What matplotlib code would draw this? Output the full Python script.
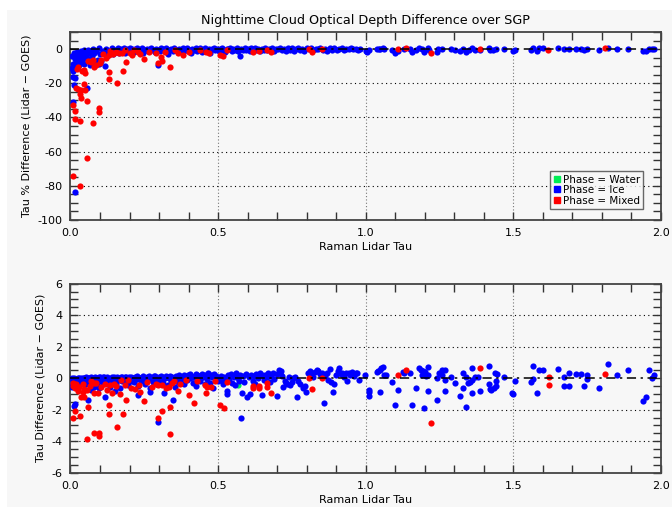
import numpy as np
import matplotlib
matplotlib.use("Agg")
import matplotlib.pyplot as plt
from matplotlib.lines import Line2D
from matplotlib.patches import Rectangle

# Nighttime cloud optical depth, Raman lidar vs GOES, split by cloud phase.
# Each series is a list of (lidar tau, difference) pairs.

# --- % difference panel ---
pct_water = [(0.566, -1.0)]

pct_ice = [
    (0.015, -83.4), (0.010, -31.0), (0.011, -21.0), (0.057, -22.9), (0.008, -16.5),
    (0.014, -17.0), (0.118, -10.1), (0.090, -7.0), (0.297, -9.1), (0.005, -11.0),
    (0.020, -10.0), (0.030, -9.5), (0.045, -8.5), (0.065, -9.5), (0.075, -8.0),
    (0.097, -9.0), (0.006, -4.0), (0.008, -9.0), (0.010, -13.0), (0.012, -2.0),
    (0.014, -6.0), (0.016, -11.0), (0.018, -3.0), (0.020, -8.0), (0.022, -1.5),
    (0.025, -5.0), (0.028, -3.0), (0.031, -7.0), (0.034, -1.0), (0.037, -4.0),
    (0.040, -2.0), (0.043, -6.0), (0.046, -0.5), (0.049, -3.0), (0.052, -1.5),
    (0.056, -5.0), (0.060, -0.5), (0.064, -2.5), (0.068, -1.0), (0.072, -4.0),
    (0.076, 0.0), (0.080, -2.0), (0.084, -8.0), (0.088, -1.0), (0.092, -6.5),
    (0.096, 0.5), (0.100, -3.0), (0.105, -7.0), (0.110, -1.0), (0.115, -2.5),
    (0.120, 0.0), (0.125, -4.0), (0.130, -1.0), (0.135, -2.0), (0.140, 0.5),
    (0.145, -3.0), (0.150, -0.5), (0.155, -1.5), (0.160, 0.5), (0.165, -2.5),
    (0.170, 0.0), (0.175, -1.0), (0.180, 0.5), (0.185, -2.0), (0.190, 0.0),
    (0.195, -0.8), (0.200, 0.5),
    (0.202, -0.5), (0.208, 0.3), (0.214, -1.6), (0.219, -0.2), (0.224, 0.5),
    (0.230, -1.0), (0.236, -0.3), (0.241, 0.4), (0.247, -2.4), (0.252, -0.6),
    (0.258, 0.2), (0.263, -1.2), (0.269, -0.1), (0.274, 0.6), (0.280, -0.8),
    (0.285, -1.9), (0.291, 0.3), (0.297, -0.4), (0.302, -1.4), (0.308, 0.5),
    (0.313, -0.2), (0.319, -0.9), (0.324, 0.4), (0.330, -2.8), (0.335, -0.3),
    (0.341, 0.2), (0.346, -1.1), (0.352, 0.6), (0.357, -0.5), (0.363, -1.7),
    (0.368, 0.1), (0.374, -0.3), (0.380, 0.5), (0.385, -1.3), (0.391, -0.2),
    (0.396, 0.4), (0.402, -0.7), (0.407, -2.0), (0.413, 0.3), (0.418, -0.4),
    (0.424, 0.6), (0.429, -1.0), (0.435, -0.1), (0.440, 0.4), (0.446, -1.5),
    (0.451, -0.3), (0.457, 0.5), (0.462, -0.8), (0.468, 0.2), (0.474, -2.2),
    (0.479, -0.2), (0.485, 0.4), (0.490, -0.6), (0.496, 0.3), (0.502, -1.2),
    (0.507, 0.1), (0.513, 0.5), (0.518, -0.4), (0.524, -1.6), (0.530, 0.3),
    (0.535, -0.2), (0.541, 0.6), (0.546, -0.9), (0.552, 0.2), (0.557, -0.5),
    (0.563, 0.4), (0.568, -1.3), (0.574, -3.9), (0.579, 0.3), (0.585, -0.3),
    (0.591, 0.5), (0.596, -0.7), (0.602, 0.2), (0.608, -1.1), (0.613, 0.4),
    (0.619, -0.2), (0.625, 0.6), (0.630, -0.6), (0.636, 0.1), (0.642, -1.4),
    (0.648, 0.3), (0.654, -0.4), (0.660, 0.5), (0.666, -0.8), (0.672, 0.2),
    (0.678, -0.3), (0.684, 0.6), (0.690, -1.0), (0.696, 0.3), (0.702, -0.2),
    (0.708, 0.5), (0.715, -0.6), (0.722, 0.2), (0.729, -1.2), (0.736, 0.4),
    (0.743, -0.3), (0.750, 0.5), (0.757, -0.9), (0.764, 0.1), (0.771, 0.4),
    (0.778, -0.5), (0.785, 0.2), (0.792, -1.1), (0.800, 0.5), (0.807, -0.2),
    (0.815, 0.4), (0.822, -0.7), (0.830, 0.3), (0.838, -0.1), (0.846, 0.5),
    (0.854, -0.5), (0.862, 0.2), (0.870, -1.2), (0.878, 0.4), (0.886, -0.3),
    (0.894, 0.5), (0.902, -0.6), (0.910, 0.2), (0.918, 0.4), (0.926, -0.4),
    (0.934, 0.3), (0.942, -0.2), (0.950, 0.5), (0.958, 0.1), (0.966, 0.3),
    (0.974, -0.3), (0.982, 0.2),
    (1.000, -1.0), (1.003, -1.8), (1.010, -0.5), (1.038, 0.2), (1.045, 0.3),
    (1.050, 0.0), (1.058, 0.4), (1.061, -0.2), (1.089, -0.3), (1.098, -2.0),
    (1.109, -1.0), (1.129, 0.3), (1.149, 0.2), (1.156, -1.8), (1.170, -0.8),
    (1.179, 0.4), (1.190, 0.3), (1.199, -1.8), (1.210, 0.5), (1.215, -0.3),
    (1.240, -1.5), (1.245, 0.1), (1.260, 0.3), (1.290, -0.2), (1.301, -0.5),
    (1.320, -1.2), (1.329, 0.2), (1.340, -1.5), (1.350, -0.5), (1.360, 0.4),
    (1.370, -0.8), (1.388, -0.6), (1.418, 0.5), (1.420, -0.8), (1.430, -0.5),
    (1.440, 0.2), (1.469, 0.1), (1.500, -1.0), (1.507, -0.3), (1.559, -0.3),
    (1.567, 0.5), (1.579, -0.9), (1.588, 0.4), (1.599, 0.4), (1.651, 0.4),
    (1.670, 0.1), (1.690, 0.2), (1.711, 0.2), (1.730, 0.2), (1.739, -0.5),
    (1.750, 0.1), (1.790, -0.6), (1.819, 0.6), (1.850, 0.2), (1.889, 0.3),
    (1.939, -1.3), (1.950, -1.0), (1.958, 0.3), (1.969, 0.0), (1.977, 0.2),
]

pct_mixed = [
    (0.0085, -74.2), (0.031, -80.0), (0.057, -64.0), (0.077, -43.0), (0.096, -34.7),
    (0.096, -36.6), (0.031, -42.3), (0.016, -41.1), (0.016, -36.3), (0.0085, -33.0),
    (0.057, -30.2), (0.037, -28.7), (0.033, -26.0), (0.035, -24.2), (0.025, -23.3),
    (0.020, -23.0), (0.048, -23.8), (0.045, -20.7), (0.157, -19.6), (0.129, -17.5),
    (0.129, -13.2), (0.178, -12.6), (0.189, -7.4), (0.296, -8.0), (0.309, -6.8),
    (0.337, -10.7), (0.249, -5.8), (0.048, -14.2), (0.040, -12.8), (0.045, -12.5),
    (0.022, -11.6), (0.026, -10.7), (0.060, -7.0), (0.075, -6.5), (0.085, -9.5),
    (0.078, -10.5), (0.070, -7.5), (0.100, -8.0), (0.105, -6.5), (0.120, -5.5),
    (0.130, -3.5), (0.140, -2.5), (0.155, -1.5), (0.165, -2.5), (0.185, -0.5),
    (0.200, -2.5), (0.215, -0.3), (0.230, -1.8), (0.265, -1.8), (0.290, -2.5),
    (0.305, -4.5), (0.320, -1.8), (0.355, -0.8), (0.365, -2.5), (0.380, -3.5),
    (0.440, -0.8), (0.110, -3.0), (0.145, -3.0), (0.175, -2.0), (0.210, -3.5),
    (0.235, -3.0), (0.400, -1.5), (0.460, -1.5), (0.470, -2.0), (0.134, -1.0),
    (0.507, -3.3), (0.518, -4.3), (0.529, -0.5), (0.617, -1.5), (0.639, -1.2),
    (0.667, -0.8), (0.679, -1.5), (0.809, 0.0), (0.818, -1.5), (0.851, 0.3),
    (1.108, 0.0), (1.138, 0.6), (1.221, -2.5), (1.387, 0.0), (1.618, -0.4),
    (1.812, 0.4),
]

# --- absolute difference panel ---
diff_water = [(0.567, -0.43)]

diff_ice = [
    (0.011, -1.78), (0.016, -1.65), (0.058, -1.38), (0.118, -1.21), (0.296, -2.79),
    (0.348, -1.38), (0.269, -0.90), (0.318, -0.96), (0.229, -1.07), (0.070, -0.75),
    (0.150, -0.80),
    (0.005, -0.55), (0.008, -0.35), (0.010, -0.20), (0.012, -0.10), (0.014, -0.45),
    (0.016, -0.05), (0.018, -0.30), (0.020, -0.15), (0.022, -0.60), (0.024, -0.08),
    (0.026, -0.25), (0.028, -0.02), (0.030, -0.40), (0.033, -0.12), (0.036, -0.05),
    (0.039, -0.30), (0.042, -0.18), (0.045, 0.00), (0.048, -0.10), (0.051, -0.35),
    (0.054, -0.05), (0.057, -0.20), (0.060, 0.02), (0.063, -0.12), (0.066, -0.45),
    (0.069, -0.03), (0.072, -0.22), (0.075, 0.04), (0.078, -0.08), (0.081, -0.55),
    (0.084, -0.15), (0.087, 0.03), (0.090, -0.28), (0.093, -0.06), (0.096, -0.65),
    (0.099, 0.05), (0.103, -0.18), (0.107, -0.02), (0.111, -0.40), (0.115, 0.06),
    (0.119, -0.10), (0.123, -0.30), (0.127, 0.04), (0.131, -0.15), (0.135, -0.55),
    (0.139, 0.00), (0.143, -0.22), (0.147, 0.07), (0.151, -0.08), (0.155, -0.35),
    (0.159, 0.03), (0.163, -0.12), (0.167, -0.60), (0.171, 0.05), (0.175, -0.20),
    (0.179, -0.05), (0.183, 0.08), (0.187, -0.30), (0.191, -0.02), (0.195, -0.45),
    (0.199, 0.06), (0.204, -0.15), (0.209, 0.02), (0.214, -0.25), (0.219, 0.09),
    (0.224, -0.08), (0.229, -0.50), (0.234, 0.04), (0.239, -0.18), (0.244, 0.10),
    (0.249, -0.03), (0.254, -0.35), (0.259, 0.07), (0.264, -0.12), (0.269, -0.62),
    (0.274, 0.02), (0.279, -0.22), (0.284, 0.11), (0.289, -0.05), (0.294, -0.40),
    (0.299, 0.05), (0.304, -0.15), (0.309, 0.08), (0.314, -0.30), (0.319, -0.02),
    (0.324, 0.12), (0.329, -0.45), (0.334, 0.03), (0.339, -0.20), (0.344, 0.09),
    (0.349, -0.08), (0.354, -0.55), (0.359, 0.06), (0.364, -0.25), (0.369, 0.13),
    (0.374, -0.05), (0.379, 0.02), (0.384, -0.35), (0.389, 0.10), (0.394, -0.12),
    (0.399, 0.22), (0.404, -0.02), (0.409, 0.15), (0.414, -0.28), (0.419, 0.05),
    (0.424, -0.50), (0.429, 0.18), (0.434, 0.00), (0.439, -0.15), (0.444, 0.25),
    (0.449, 0.08), (0.454, -0.40), (0.459, 0.12), (0.464, -0.05), (0.469, 0.20),
    (0.474, -0.30), (0.479, 0.10), (0.484, -0.60), (0.489, 0.05), (0.494, 0.15),
    (0.499, -0.20),
    (0.004, -0.02), (0.013, 0.01), (0.019, -0.04), (0.027, 0.03), (0.034, -0.02),
    (0.041, 0.04), (0.047, -0.03), (0.053, 0.05), (0.062, -0.02), (0.068, 0.06),
    (0.074, -0.04), (0.083, 0.05), (0.089, -0.01), (0.095, 0.07), (0.101, -0.04),
    (0.109, 0.06), (0.117, -0.02), (0.125, 0.08), (0.133, -0.05), (0.141, 0.07),
    (0.149, 0.01), (0.157, 0.09), (0.165, -0.03), (0.173, 0.08), (0.181, 0.00),
    (0.189, 0.10), (0.197, -0.04), (0.206, 0.09), (0.216, 0.02), (0.226, 0.11),
    (0.236, -0.02), (0.246, 0.12), (0.256, 0.03), (0.266, 0.13), (0.276, -0.03),
    (0.286, 0.12), (0.296, 0.02), (0.306, 0.14), (0.316, 0.04), (0.326, 0.10),
    (0.336, 0.15), (0.346, 0.02), (0.356, 0.12), (0.366, 0.20), (0.376, 0.08),
    (0.386, 0.18), (0.396, 0.05), (0.406, 0.25), (0.416, 0.10), (0.426, 0.28),
    (0.436, 0.12), (0.446, 0.05), (0.456, 0.22), (0.466, 0.30), (0.476, 0.18),
    (0.486, 0.25), (0.496, 0.08),
    (0.505, -0.10), (0.510, 0.15), (0.515, -0.35), (0.520, 0.05), (0.525, -0.20),
    (0.529, -0.81), (0.529, -1.02), (0.533, 0.18), (0.538, -0.05), (0.543, 0.25),
    (0.548, -0.30), (0.553, 0.10), (0.558, -0.45), (0.562, 0.30), (0.566, 0.02),
    (0.571, -0.15), (0.575, 0.22), (0.580, -0.93), (0.579, -2.54), (0.584, 0.12),
    (0.588, -0.25), (0.593, 0.28), (0.599, -1.19), (0.603, 0.05), (0.608, -1.02),
    (0.612, 0.20), (0.617, -0.20), (0.621, 0.15), (0.626, -0.35), (0.630, 0.25),
    (0.635, 0.02), (0.641, 0.30), (0.647, -1.09), (0.650, 0.18), (0.655, -0.10),
    (0.660, 0.22), (0.665, 0.05), (0.670, 0.35), (0.675, -0.25), (0.680, 0.12),
    (0.685, 0.30), (0.690, -0.05), (0.698, -1.15), (0.700, 0.25), (0.706, 0.55),
    (0.708, 0.35), (0.712, 0.45), (0.716, 0.15), (0.720, -0.57), (0.725, -0.20),
    (0.730, -0.30), (0.735, -0.35), (0.740, 0.05), (0.745, -0.45), (0.750, -0.25),
    (0.755, 0.00), (0.760, 0.10), (0.767, -1.21), (0.772, -0.15), (0.778, -0.40),
    (0.788, -0.60), (0.793, -0.50), (0.799, -0.85), (0.805, 0.30), (0.810, 0.45),
    (0.814, 0.20), (0.818, 0.35), (0.823, 0.10), (0.828, 0.40), (0.834, 0.50),
    (0.840, 0.45), (0.845, 0.25), (0.852, 0.30), (0.858, -1.59), (0.862, 0.15),
    (0.868, 0.35), (0.873, -0.10), (0.879, 0.57), (0.884, -0.25), (0.890, -0.85),
    (0.893, -0.35), (0.898, 0.20), (0.905, 0.45), (0.910, 0.63), (0.915, 0.25),
    (0.920, 0.30), (0.926, 0.05), (0.932, 0.35), (0.938, -0.20), (0.943, 0.30),
    (0.948, 0.20), (0.955, 0.38), (0.960, 0.15), (0.966, 0.30), (0.972, 0.35),
    (0.978, -0.10),
    (0.998, 0.17), (1.010, -0.74), (1.010, -0.88), (1.010, -1.15), (1.038, 0.38),
    (1.043, 0.45), (1.048, 0.55), (1.053, 0.62), (1.058, 0.74), (1.061, 0.20),
    (1.068, 0.22), (1.049, -0.85), (1.089, -0.22), (1.098, -1.70), (1.109, -0.74),
    (1.126, 0.42), (1.130, 0.36), (1.149, 0.30), (1.156, -1.70), (1.170, -0.63),
    (1.179, 0.63), (1.188, 0.50), (1.195, 0.45), (1.200, 0.40), (1.190, 0.20),
    (1.199, -1.91), (1.210, 0.72), (1.210, 0.20), (1.205, 0.12), (1.210, -0.80),
    (1.240, -1.38), (1.241, 0.00), (1.249, 0.30), (1.258, 0.20), (1.260, 0.51),
    (1.269, 0.51), (1.269, -0.10), (1.269, -0.81), (1.290, 0.06), (1.301, -0.30),
    (1.320, -1.15), (1.329, 0.30), (1.329, -0.63), (1.339, 0.06), (1.340, -1.84),
    (1.348, -0.30), (1.354, -0.25), (1.360, 0.63), (1.360, -0.10), (1.360, -0.95),
    (1.371, 0.10), (1.380, 0.08), (1.388, -0.80), (1.418, 0.80), (1.419, -0.35),
    (1.421, -0.70), (1.424, -0.77), (1.439, 0.30), (1.446, 0.27), (1.441, -0.20),
    (1.441, -0.47), (1.436, -0.60), (1.469, 0.10), (1.495, -0.95),
    (1.500, -1.02), (1.507, -0.21), (1.559, -0.26), (1.567, 0.76), (1.567, -0.04),
    (1.579, -0.97), (1.588, 0.55), (1.599, 0.55), (1.651, 0.61), (1.670, 0.06),
    (1.670, -0.51), (1.690, 0.33), (1.690, -0.51), (1.711, 0.29), (1.730, 0.29),
    (1.739, -0.51), (1.750, 0.17), (1.750, -0.08), (1.790, -0.63), (1.819, 0.93),
    (1.850, 0.23), (1.889, 0.50), (1.939, -1.44), (1.950, -1.17), (1.958, 0.50),
    (1.969, -0.02), (1.977, 0.21),
]

diff_mixed = [
    (0.0085, -2.50), (0.016, -2.08), (0.031, -2.40), (0.057, -3.85), (0.058, -1.80),
    (0.078, -3.45), (0.098, -3.47), (0.098, -3.68), (0.129, -1.70), (0.129, -2.27),
    (0.157, -3.09), (0.178, -2.25), (0.189, -1.38), (0.249, -1.44), (0.296, -2.50),
    (0.309, -2.08), (0.338, -1.86), (0.337, -3.52), (0.400, -1.10), (0.419, -1.59),
    (0.459, -0.93),
    (0.037, -1.21), (0.045, -1.17), (0.014, -0.63), (0.020, -0.35), (0.047, -0.70),
    (0.057, -0.75), (0.079, -0.92), (0.093, -0.92), (0.140, -0.97), (0.168, -1.00),
    (0.172, -0.12), (0.195, -0.12), (0.218, -0.70), (0.235, -0.85), (0.232, -0.42),
    (0.288, -0.38), (0.296, -0.42), (0.324, -0.63), (0.335, -0.53), (0.352, -0.21),
    (0.364, -0.80), (0.392, -0.09), (0.464, -0.57), (0.489, -0.21), (0.146, -0.38),
    (0.133, -0.46), (0.116, -0.38), (0.088, -0.32), (0.071, -0.21), (0.078, -0.30),
    (0.042, -0.40), (0.020, -0.48), (0.009, -0.48), (0.025, -0.80), (0.044, -0.90),
    (0.010, -0.30), (0.030, -0.55), (0.065, -0.50), (0.105, -0.55), (0.125, -0.75),
    (0.155, -0.50), (0.185, -0.45), (0.205, -0.60), (0.260, -0.25), (0.275, -0.55),
    (0.310, -0.45), (0.345, -0.30), (0.370, -0.40), (0.430, -0.15), (0.455, -0.45),
    (0.475, -0.55),
    (0.507, -1.68), (0.520, -1.87), (0.529, -0.26), (0.617, -0.49), (0.619, -0.63),
    (0.639, -0.47), (0.639, -0.63), (0.667, -0.33), (0.667, -0.54), (0.679, -0.95),
    (0.809, 0.00), (0.818, -0.67), (0.851, 0.00), (1.109, 0.17), (1.137, 0.55),
    (1.220, -2.82), (1.388, 0.62), (1.620, 0.06), (1.620, -0.42), (1.810, 0.27),
]

phase_names = ["Water", "Ice", "Mixed"]
phase_colors = ["#00ee55", "#0000ff", "#ff0000"]

x_ticks = [0.0, 0.5, 1.0, 1.5, 2.0]
pct_ticks = [-100, -80, -60, -40, -20, 0]
diff_ticks = [-6, -4, -2, 0, 2, 4, 6]

BG = "#f7f7f7"
FONT = 8

fig = plt.figure(figsize=(6.72, 5.07), dpi=100, facecolor="white")
fig.patches.append(Rectangle((7 / 672, 0), 1, 1 - 10 / 507, transform=fig.transFigure,
                             facecolor=BG, edgecolor="none", zorder=-10))

ax1 = fig.add_axes([0.1049, 0.5661, 0.8787, 0.3708])
ax2 = fig.add_axes([0.1049, 0.0677, 0.8787, 0.3728])


def style_axes(ax, ylim, yticks, minor_step, ylabel):
    ax.set_facecolor(BG)
    ax.set_xlim(0, 2)
    ax.set_ylim(*ylim)
    ax.set_xticks(x_ticks)
    ax.set_xticklabels(["%.1f" % t for t in x_ticks])
    ax.set_xticks(np.arange(0, 2.0001, 0.1), minor=True)
    ax.set_yticks(yticks)
    ax.set_yticklabels([str(t) for t in yticks])
    ax.set_yticks(np.arange(ylim[0], ylim[1] + 1e-6, minor_step), minor=True)
    ax.tick_params(which="both", direction="in", top=True, right=True,
                   length=6, width=1, color="#333333", labelsize=FONT, pad=6)
    for s in ax.spines.values():
        s.set_color("#444444")
        s.set_linewidth(1.3)
    # dotted grid at the interior major ticks
    for t in x_ticks[1:-1]:
        ax.axvline(t, color="#777777", lw=0.8, ls=(0, (1, 2)), zorder=1)
    for t in yticks:
        if t != 0 and ylim[0] < t < ylim[1]:
            ax.axhline(t, color="black", lw=0.8, ls=(0, (1, 3)), zorder=1)
    ax.set_xlabel("Raman Lidar Tau", fontsize=FONT, labelpad=3)
    ax.set_ylabel(ylabel, fontsize=FONT, labelpad=4)


def draw_points(ax, series):
    for pts, color in zip(series, phase_colors):
        xy = np.array(pts)
        ax.scatter(xy[:, 0], xy[:, 1], s=20, color=color, marker="o",
                   linewidths=0, zorder=3)
    ax.axhline(0, color="black", lw=1.1, ls=(0, (6, 3, 1.5, 3)), zorder=4)


style_axes(ax1, (-100, 10), pct_ticks, 5, "Tau % Difference (Lidar \u2212 GOES)")
draw_points(ax1, [pct_water, pct_ice, pct_mixed])
ax1.set_title("Nighttime Cloud Optical Depth Difference over SGP", fontsize=9.2, pad=6)

handles = [Line2D([], [], marker="s", color=c, ls="none", markersize=5)
           for c in phase_colors]
leg = ax1.legend(handles, ["Phase = " + n for n in phase_names],
                 loc="lower right", bbox_to_anchor=(0.97, 0.06),
                 fontsize=7.5, frameon=True, fancybox=False,
                 handlelength=0.6, handletextpad=0.3, borderpad=0.3,
                 labelspacing=0.05, borderaxespad=0)
leg.get_frame().set_edgecolor("#444444")
leg.get_frame().set_facecolor(BG)
leg.get_frame().set_linewidth(1.0)

style_axes(ax2, (-6, 6), diff_ticks, 0.5, "Tau Difference (Lidar \u2212 GOES)")
draw_points(ax2, [diff_water, diff_ice, diff_mixed])

fig.savefig("out.png", dpi=100, facecolor="white")
